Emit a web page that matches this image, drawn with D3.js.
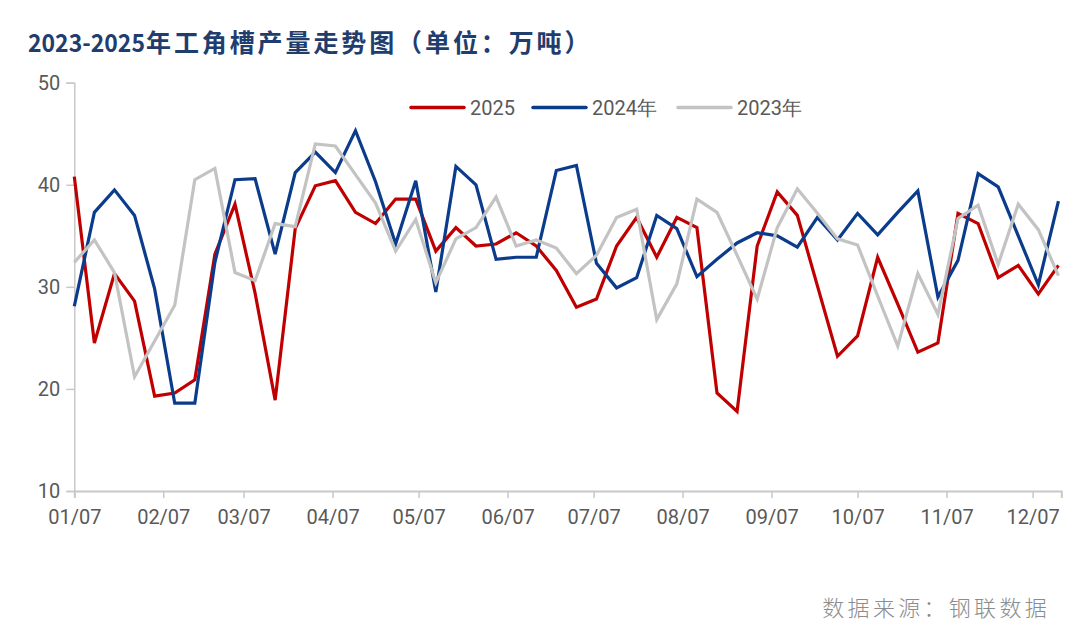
<!DOCTYPE html>
<html>
<head>
<meta charset="utf-8">
<script src="https://cdn.jsdelivr.net/npm/d3@7"></script>
<style>
html,body{margin:0;padding:0;background:#ffffff;}
svg{display:block;}
</style>
</head>
<body>
<svg id="chart" width="1080" height="627"></svg>
<script>
// ---- data ----
const seriesNames = ["2025", "2024年", "2023年"];
const seriesColors = ["#C00000", "#0B3C8C", "#C3C3C3"];
const values2025 = [40.8,24.5,31.3,28.6,19.3,19.6,20.9,33.2,38.1,29.4,18.9,35.7,39.9,40.4,37.3,36.2,38.6,38.6,33.5,35.8,34.0,34.2,35.3,34.0,31.6,28.0,28.8,34.0,36.8,32.9,36.8,35.8,19.6,17.8,34.0,39.3,37.0,30.1,23.2,25.2,32.9,28.3,23.6,24.5,37.2,36.2,30.9,32.1,29.3,32.1];
const values2024 = [28.1,37.3,39.5,37.0,29.8,18.6,18.6,32.4,40.5,40.6,33.2,41.2,43.2,41.2,45.3,40.3,34.2,40.4,29.5,41.8,40.0,32.7,32.9,32.9,41.4,41.9,32.3,29.9,30.9,37.0,35.7,31.0,32.7,34.3,35.3,35.0,33.9,36.8,34.6,37.2,35.1,37.3,39.4,29.0,32.6,41.1,39.8,35.0,30.2,38.4];
const values2023 = [32.4,34.6,31.4,21.2,24.7,28.2,40.5,41.6,31.4,30.6,36.2,35.9,44.0,43.8,41.0,38.2,33.5,36.6,30.4,34.7,35.8,38.8,34.0,34.6,33.8,31.3,33.1,36.8,37.6,26.8,30.3,38.6,37.3,33.1,28.8,35.8,39.6,37.2,34.7,34.1,29.1,24.2,31.3,27.3,36.7,38.0,32.2,38.1,35.6,31.1];
const xTickLabels = ["01/07","02/07","03/07","04/07","05/07","06/07","07/07","08/07","09/07","10/07","11/07","12/07"];
const yTicks = [10, 20, 30, 40, 50];
const titleNum = "2023-2025";
const titleText = "年工角槽产量走势图（单位：万吨）";
const sourceText = "数据来源：钢联数据";

// weekly dates starting Jan 7 (plotted on a common year axis)
const startDate = new Date(2025, 0, 7);
const weekDates = values2025.map((_, i) => d3.timeDay.offset(startDate, i * 7));
const allSeries = [values2025, values2024, values2023];

// ---- layout ----
const svg = d3.select("#chart");
const textColor = "#595959";
const axisColor = "#C8C8C8";
const font = "Roboto, 'Liberation Sans', sans-serif";

const x = d3.scaleTime()
  .domain([new Date(2025, 0, 7), new Date(2025, 11, 17)])
  .range([74.3, 1061.3]);
const y = d3.scaleLinear().domain([10, 50]).range([491, 82.7]);

// title
svg.append("text")
  .attr("x", 28).attr("y", 52)
  .attr("font-family", "'Noto Sans CJK SC', sans-serif")
  .attr("font-weight", 700).attr("font-size", 25)
  .attr("fill", "#1F3D6D")
  .attr("textLength", 117).attr("lengthAdjust", "spacingAndGlyphs")
  .text(titleNum);
svg.append("text")
  .attr("x", 146).attr("y", 52)
  .attr("font-family", "'Noto Sans CJK SC', sans-serif")
  .attr("font-weight", 700).attr("font-size", 25)
  .attr("fill", "#1F3D6D")
  .attr("letter-spacing", 2.9)
  .text(titleText);

// y axis
const yAxis = svg.append("g")
  .attr("transform", `translate(${x.range()[0]},0)`)
  .call(d3.axisLeft(y).tickValues(yTicks).tickSize(8).tickPadding(6).tickFormat(d3.format("d")));
yAxis.select(".domain").attr("stroke", axisColor).attr("stroke-width", 1.5);
yAxis.selectAll(".tick line").attr("stroke", axisColor).attr("stroke-width", 1.5);
yAxis.selectAll(".tick text").attr("fill", textColor).attr("font-family", font).attr("font-size", 20);

// x axis
const tickDates = xTickLabels.map((t) => {
  const [m, d] = t.split("/").map(Number);
  return new Date(2025, m - 1, d);
});
const xAxis = svg.append("g")
  .attr("transform", `translate(0,${y(10)})`)
  .call(d3.axisBottom(x).tickValues(tickDates).tickSize(7).tickPadding(12)
    .tickFormat((d, i) => xTickLabels[i]));
xAxis.select(".domain").attr("stroke", axisColor).attr("stroke-width", 2);
xAxis.selectAll(".tick line").attr("stroke", axisColor).attr("stroke-width", 1.5);
xAxis.selectAll(".tick text").attr("fill", textColor).attr("font-family", font).attr("font-size", 20);

// lines
const line = d3.line()
  .x((d, i) => x(weekDates[i]))
  .y((d) => y(d));
svg.append("g").selectAll("path")
  .data(allSeries)
  .join("path")
  .attr("d", (d) => line(d))
  .attr("fill", "none")
  .attr("stroke", (d, i) => seriesColors[i])
  .attr("stroke-width", 3.2)
  .attr("stroke-linejoin", "miter");

// legend
const legendX = [411, 533, 678];
const legend = svg.append("g");
seriesNames.forEach((name, i) => {
  legend.append("line")
    .attr("x1", legendX[i]).attr("x2", legendX[i] + 53)
    .attr("y1", 107.5).attr("y2", 107.5)
    .attr("stroke", seriesColors[i]).attr("stroke-width", 3.5)
    .attr("stroke-linecap", "round");
  legend.append("text")
    .attr("x", legendX[i] + 59).attr("y", 115)
    .attr("font-family", font).attr("font-size", 20)
    .attr("fill", textColor)
    .text(name);
});

// source
svg.append("text")
  .attr("x", 1050).attr("y", 616)
  .attr("text-anchor", "end")
  .attr("font-family", "'Noto Sans CJK SC', sans-serif")
  .attr("font-weight", 300).attr("font-size", 22)
  .attr("fill", "#8C8C8C")
  .attr("letter-spacing", 3.3)
  .text(sourceText);
</script>
</body>
</html>
